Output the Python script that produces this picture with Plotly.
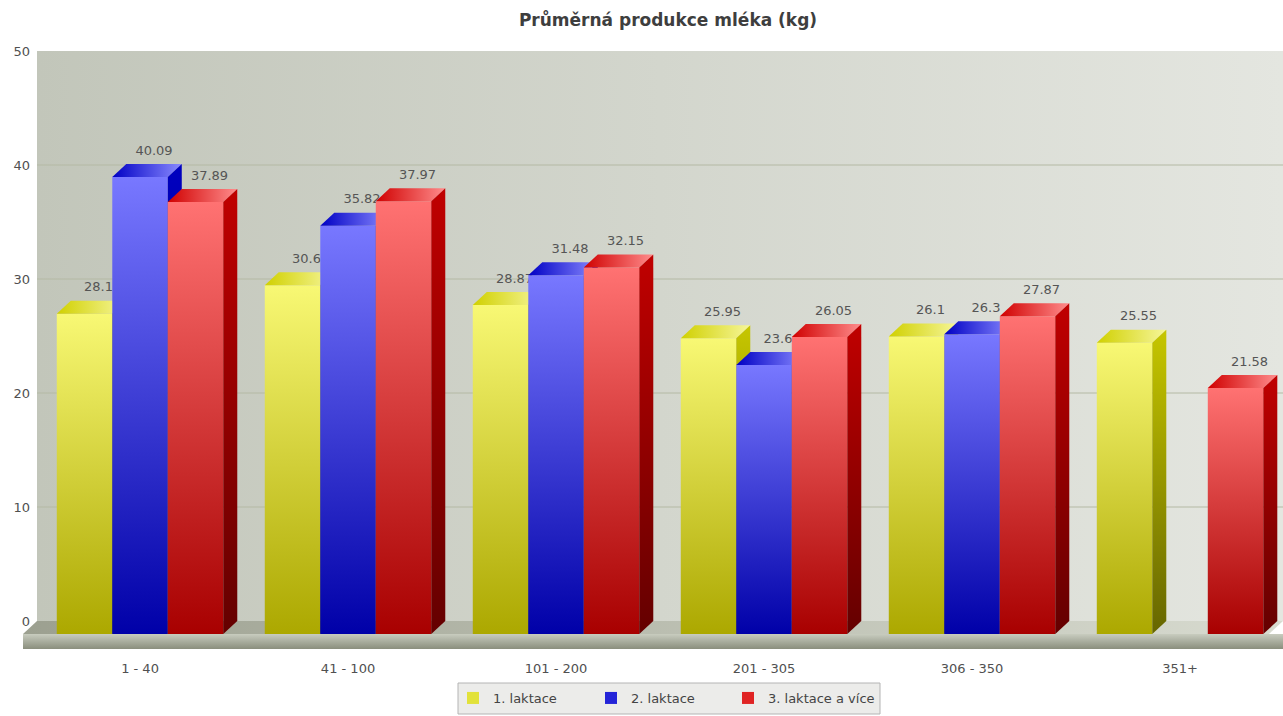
import plotly.graph_objects as go

# ---------------- data ----------------
categories = ["1 - 40", "41 - 100", "101 - 200", "201 - 305", "306 - 350", "351+"]
series_names = ["1. laktace", "2. laktace", "3. laktace a více"]
laktace_1 = [28.1, 30.6, 28.87, 25.95, 26.1, 25.55]
laktace_2 = [40.09, 35.82, 31.48, 23.6, 26.3, None]
laktace_3 = [37.89, 37.97, 32.15, 26.05, 27.87, 21.58]
y_ticks = [0, 10, 20, 30, 40, 50]

series_values = [laktace_1, laktace_2, laktace_3]

# ---------------- styling / geometry ----------------
W, H = 1283, 716
M_L, M_R, M_T, M_B = 20, 0, 51, 66
XL, XR = -0.577, 5.495
YTOP = 50
PX_PER_Y = 11.4
YB = YTOP - (H - M_T - M_B) / PX_PER_Y
PX_PER_X = (W - M_L - M_R) / (XR - XL)
PLOT_W = W - M_L - M_R
PLOT_H = H - M_T - M_B

DX = 14 / PX_PER_X          # depth offset in x units
DY = 13 / PX_PER_Y          # depth offset in y units
BAR_W = 55.5 / PX_PER_X     # bar width in x units
WALL_L = XL + 17 / PX_PER_X
FLOOR_B = -(649 - 621) / PX_PER_Y
LABEL_GAP = 6 / PX_PER_Y

front_cs = [
    [[0, "#aca800"], [1, "#f8f874"]],
    [[0, "#0000a8"], [1, "#7878ff"]],
    [[0, "#a80000"], [1, "#ff7272"]],
]
top_cs = [
    [[0, "#d0d000"], [1, "#f6f69a"]],
    [[0, "#0000c4"], [1, "#8a8aff"]],
    [[0, "#d00000"], [1, "#ff8c8c"]],
]
side_cs = [
    [[0, "#666600"], [1, "#c6c600"]],
    [[0, "#000064"], [1, "#0000c0"]],
    [[0, "#640000"], [1, "#c00000"]],
]
legend_colors = ["#e2e23a", "#2424d8", "#e02424"]
legend_px = [453, 591, 728]          # left edge (px) of each legend entry
LEG_BOX = (458, 683, 880, 714)       # legend frame in px (x0, y0, x1, y1)
LEG_MID = 698

TEXT_FONT = "DejaVu Sans, Verdana, sans-serif"

fig = go.Figure()


def poly(xs, ys, cs, gtype):
    fig.add_trace(go.Scatter(
        x=xs + [xs[0]], y=ys + [ys[0]], mode="lines", line=dict(width=0),
        fill="toself", fillgradient=dict(type=gtype, colorscale=cs),
        showlegend=False, hoverinfo="skip"))


# back wall
poly([WALL_L, XR, XR, WALL_L], [0, 0, YTOP, YTOP],
     [[0, "#c2c6ba"], [1, "#e4e6e0"]], "horizontal")

# gridlines
gx, gy = [], []
for t in y_ticks[1:-1]:
    gx += [WALL_L, XR, None]
    gy += [t, t, None]
fig.add_trace(go.Scatter(x=gx, y=gy, mode="lines",
                         line=dict(color="#b4b9a4", width=1),
                         showlegend=False, hoverinfo="skip"))

# floor top
poly([WALL_L, XR, XR - DX, WALL_L - DX], [0, 0, -DY, -DY],
     [[0, "#9ca090"], [1, "#d8dbd0"]], "horizontal")
# floor front
poly([WALL_L - DX, XR, XR, WALL_L - DX], [-DY, -DY, FLOOR_B, FLOOR_B],
     [[0, "#8a8e7d"], [1, "#c8ccbf"]], "vertical")

# bars
for i in range(len(categories)):
    for k, vals in enumerate(series_values):
        v = vals[i]
        if v is None:
            continue
        c = i + (k - 1) * BAR_W
        x0, x1 = c - BAR_W / 2, c + BAR_W / 2
        yt = v - DY
        # front face
        poly([x0, x1, x1, x0], [-DY, -DY, yt, yt], front_cs[k], "vertical")
        # top face
        poly([x0, x1, x1 + DX, x0 + DX], [yt, yt, v, v], top_cs[k], "horizontal")
        # side face
        poly([x1, x1 + DX, x1 + DX, x1], [-DY, 0, v, yt], side_cs[k], "vertical")
        # value label
        fig.add_trace(go.Scatter(
            x=[c + DX], y=[v + LABEL_GAP], mode="text", text=[f"{v:g}"],
            textposition="top center",
            textfont=dict(family=TEXT_FONT, size=13, color="#555555"),
            showlegend=False, hoverinfo="skip", cliponaxis=False))

# legend entries (one legend per entry so spacing matches)
legend_ids = ["legend", "legend2", "legend3"]
for k, name in enumerate(series_names):
    fig.add_trace(go.Bar(x=[None], y=[None], name=name, legend=legend_ids[k],
                         marker=dict(color=legend_colors[k], line=dict(width=0))))

# dummy trace for the tick axis
fig.add_trace(go.Scatter(x=[None], y=[None], yaxis="y2", showlegend=False,
                         hoverinfo="skip"))

legend_common = dict(orientation="h", xref="container", yref="container",
                     xanchor="left", yanchor="middle",
                     bgcolor="rgba(0,0,0,0)", borderwidth=0,
                     font=dict(family=TEXT_FONT, size=13, color="#444444"))

layout_legends = {}
for k, lid in enumerate(legend_ids):
    layout_legends[lid] = dict(legend_common, x=legend_px[k] / W,
                               y=(H - LEG_MID) / H)

# legend frame
bx0, by0, bx1, by1 = LEG_BOX
fig.add_shape(type="rect", xref="paper", yref="paper",
              x0=(bx0 - M_L) / PLOT_W, x1=(bx1 - M_L) / PLOT_W,
              y0=(H - M_B - by0) / PLOT_H, y1=(H - M_B - by1) / PLOT_H,
              fillcolor="#ececea", line=dict(color="#b4b4b4", width=1),
              layer="above")

fig.update_layout(
    width=W, height=H,
    margin=dict(l=M_L, r=M_R, t=M_T, b=M_B),
    paper_bgcolor="white", plot_bgcolor="rgba(0,0,0,0)",
    hovermode=False,
    title=dict(text="<b>Průměrná produkce mléka (kg)</b>",
               x=668 / W, xref="container", xanchor="center",
               y=1 - 20 / H, yref="container", yanchor="middle",
               font=dict(family=TEXT_FONT, size=17, color="#3e3e3e")),
    xaxis=dict(range=[XL, XR], showgrid=False, zeroline=False, showline=False,
               tickvals=list(range(len(categories))), ticktext=categories,
               ticks="", ticklabelstandoff=9,
               tickfont=dict(family=TEXT_FONT, size=13, color="#505050")),
    yaxis=dict(range=[YB, YTOP], showgrid=False, zeroline=False, showline=False,
               showticklabels=False),
    yaxis2=dict(range=[YB, YTOP], overlaying="y", anchor="free",
                position=(WALL_L - XL) / (XR - XL), side="left",
                showgrid=False, zeroline=False, showline=False,
                tickvals=y_ticks, ticks="", ticklabelstandoff=7,
                tickfont=dict(family=TEXT_FONT, size=13, color="#505050")),
    showlegend=True,
    **layout_legends,
)

fig.write_html("out.html")
